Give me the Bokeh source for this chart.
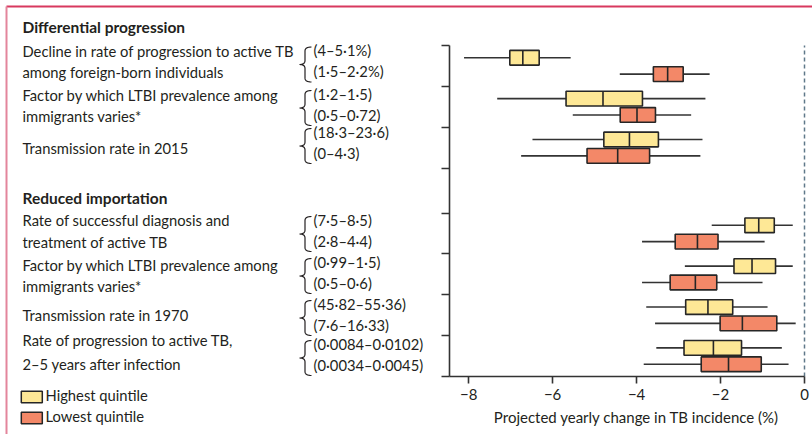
from bokeh.plotting import figure
from bokeh.models import Range1d, FixedTicker
from bokeh.core.properties import value
from bokeh.embed import file_html
from bokeh.resources import INLINE

# ---------------- data ----------------
sections = ["Differential progression", "Reduced importation"]
param_lines = [
    ["Decline in rate of progression to active TB", "among foreign-born individuals"],
    ["Factor by which LTBI prevalence among", "immigrants varies*"],
    ["Transmission rate in 2015"],
    ["Rate of successful diagnosis and", "treatment of active TB"],
    ["Factor by which LTBI prevalence among", "immigrants varies*"],
    ["Transmission rate in 1970"],
    ["Rate of progression to active TB,", "2–5 years after infection"],
]
param_section = [0, 0, 0, 1, 1, 1, 1]
high_ranges = ["(4–5·1%)", "(1·2–1·5)", "(18·3–23·6)", "(7·5–8·5)",
               "(0·99–1·5)", "(45·82–55·36)", "(0·0084–0·0102)"]
low_ranges = ["(1·5–2·2%)", "(0·5–0·72)", "(0–4·3)", "(2·8–4·4)",
              "(0·5–0·6)", "(7·6–16·33)", "(0·0034–0·0045)"]
series_names = ["Highest quintile", "Lowest quintile"]

# Highest quintile: whisker low, Q1, median, Q3, whisker high
high_wlo = [-8.11, -7.32, -6.48, -2.21, -2.85, -3.77, -3.53]
high_q1 = [-7.02, -5.68, -4.78, -1.42, -1.68, -2.83, -2.87]
high_med = [-6.71, -4.80, -4.17, -1.09, -1.25, -2.30, -2.17]
high_q3 = [-6.32, -3.86, -3.48, -0.72, -0.69, -1.71, -1.50]
high_whi = [-5.57, -2.36, -2.43, -0.28, -0.28, -0.88, -0.54]
# Lowest quintile
low_wlo = [-4.40, -5.52, -6.75, -3.87, -3.87, -3.56, -3.83]
low_q1 = [-3.60, -4.39, -5.18, -3.08, -3.20, -2.01, -2.46]
low_med = [-3.26, -3.99, -4.45, -2.55, -2.60, -1.48, -1.81]
low_q3 = [-2.89, -3.55, -3.69, -2.06, -2.09, -0.66, -1.03]
low_whi = [-2.26, -2.70, -2.48, -0.95, -1.00, -0.21, -0.38]

x_ticks = [-8, -6, -4, -2, 0]
x_tick_labels = ["−8", "−6", "−4", "−2", "0"]
x_title = "Projected yearly change in TB incidence (%)"
x_title_center = -4

# ---------------- style ----------------
FONT = "Lato"
FS = "14.75px"
TXT = "#231f20"
YELLOW = "#fee896"
RED = "#f38868"
EDGE = "#262626"
AXC = "#333333"
PINK_TOP = "#d8385f"
PINK_LEFT = "#e3859c"
TEXT_DY = -7  # renderer baseline correction (px)

W, H = 812, 434

# ---------------- row positions ----------------
n = len(param_lines)
SEC_GAP = 1.1
bottoms = [(n - 1 - i) + (SEC_GAP if param_section[i] == 0 else 0.0) for i in range(n)]
y_high = [b + 0.7 for b in bottoms]
y_low = [b + 0.3 for b in bottoms]
y_ticks = sorted(set([round(b, 3) for b in bottoms] + [round(b + 1, 3) for b in bottoms]))
Y_AXIS_TOP = max(y_ticks)

# pixel anchors of the plotting area on the canvas
PX_X0, PX_XZERO, PX_PER_X = 449.0, 804.0, 41.98   # y-axis line, x=0, px per unit
PX_YAXIS, PX_YTOP = 376.0, 45.0                   # x-axis line, top of y-axis
PX_PER_Y = (PX_YAXIS - PX_YTOP) / Y_AXIS_TOP

X_START = (0 - PX_XZERO) / PX_PER_X
X_END = (W - PX_XZERO) / PX_PER_X
X_AXIS_LEFT = (PX_X0 - PX_XZERO) / PX_PER_X
Y_START = -(H - PX_YAXIS) / PX_PER_Y
Y_END = PX_YAXIS / PX_PER_Y

p = figure(width=W, height=H, output_backend="svg", toolbar_location=None,
           x_range=Range1d(X_START, X_END), y_range=Range1d(Y_START, Y_END),
           min_border=0)
p.extra_x_ranges = {"px": Range1d(0, W)}
p.extra_y_ranges = {"px": Range1d(H, 0)}
p.outline_line_color = None
p.grid.visible = False
p.background_fill_color = "white"
p.border_fill_color = "white"

PXR = dict(x_range_name="px", y_range_name="px")

# decorative frame rules (top and left)
p.segment(x0=[6], y0=[6], x1=[W], y1=[6], line_color=PINK_TOP, line_width=2, **PXR)
p.segment(x0=[6], y0=[6], x1=[6], y1=[H], line_color=PINK_LEFT, line_width=2, **PXR)

# zero reference line (dashed)
p.segment(x0=[0], y0=[0], x1=[0], y1=[Y_AXIS_TOP], line_color="#5f7889",
          line_width=1.5, line_dash="4 3")

BOX_H = 0.36
for (yy, wlo, q1, med, q3, whi, col) in [
    (y_high, high_wlo, high_q1, high_med, high_q3, high_whi, YELLOW),
    (y_low, low_wlo, low_q1, low_med, low_q3, low_whi, RED),
]:
    p.segment(x0=wlo, y0=yy, x1=whi, y1=yy, line_color=AXC, line_width=1.6)
    p.hbar(y=yy, left=q1, right=q3, height=BOX_H, fill_color=col,
           line_color=EDGE, line_width=1.6)
    p.segment(x0=med, y0=[v - BOX_H / 2 for v in yy], x1=med,
              y1=[v + BOX_H / 2 for v in yy], line_color=EDGE, line_width=1.6)

xa = p.xaxis[0]
xa.fixed_location = 0
xa.bounds = (X_AXIS_LEFT, 0)
xa.ticker = FixedTicker(ticks=x_ticks)
xa.major_label_overrides = {float(t): lab for t, lab in zip(x_ticks, x_tick_labels)}
xa.major_tick_in = 0
xa.major_tick_out = 7
xa.minor_tick_line_color = None
xa.axis_line_width = 1.6
xa.axis_line_color = AXC
xa.major_tick_line_width = 1.6
xa.major_tick_line_color = AXC
xa.major_label_text_font = FONT
xa.major_label_text_font_size = "15px"
xa.major_label_text_color = TXT
xa.major_label_standoff = 5

ya = p.yaxis[0]
ya.fixed_location = X_AXIS_LEFT
ya.bounds = (0, Y_AXIS_TOP)
ya.ticker = FixedTicker(ticks=y_ticks)
ya.major_tick_in = 0
ya.major_tick_out = 8
ya.minor_tick_line_color = None
ya.axis_line_width = 1.6
ya.axis_line_color = AXC
ya.major_tick_line_width = 1.6
ya.major_tick_line_color = AXC
ya.major_label_text_font_size = "1px"
ya.major_label_text_alpha = 0
ya.major_label_standoff = 0

# x-axis title, centred on x = -4
p.text(x=[x_title_center], y=[423 + TEXT_DY], y_range_name="px",
       text=[x_title], text_font=value(FONT), text_font_size="15px", text_color=TXT,
       text_align="center", text_baseline="alphabetic")

# ---------------- left-hand labels (canvas pixel coordinates) ----------------
TEXT_X = 22
head_base = [33, 204]
line_base = [[57, 78], [101.5, 122.5], [154], [226.5, 248], [271, 292], [321.5],
             [346.5, 370]]
pair_base = [56.5, 100, 138, 226, 268, 310, 350]
PAIR_DY = 21
RANGE_X = 313

p.text(x=[TEXT_X] * len(sections), y=[b + TEXT_DY for b in head_base], text=sections,
       text_font=value(FONT), text_font_size="15.5px", text_font_style="bold",
       text_color=TXT, text_baseline="alphabetic", text_align="left", **PXR)

lx, ly, lt = [], [], []
for lines, bases in zip(param_lines, line_base):
    for t, b in zip(lines, bases):
        lx.append(TEXT_X)
        ly.append(b + TEXT_DY)
        lt.append(t)
p.text(x=lx, y=ly, text=lt, text_font=value(FONT), text_font_size=FS,
       text_color=TXT, text_baseline="alphabetic", text_align="left", **PXR)

rx, ry, rt = [], [], []
for hi, lo, b in zip(high_ranges, low_ranges, pair_base):
    rx += [RANGE_X, RANGE_X]
    ry += [b + TEXT_DY, b + PAIR_DY + TEXT_DY]
    rt += [hi, lo]
p.text(x=rx, y=ry, text=rt, text_font=value(FONT), text_font_size=FS,
       text_color=TXT, text_baseline="alphabetic", text_align="left", **PXR)


def qcurve(p0, c, p2, k=8):
    pts = []
    for j in range(k + 1):
        t = j / k
        x = (1 - t) ** 2 * p0[0] + 2 * (1 - t) * t * c[0] + t ** 2 * p2[0]
        y = (1 - t) ** 2 * p0[1] + 2 * (1 - t) * t * c[1] + t ** 2 * p2[1]
        pts.append((x, y))
    return pts


def brace(xr, xv, xm, top, bot, r=4.0):
    mid = (top + bot) / 2.0
    pts = []
    pts += qcurve((xr, top), (xv, top), (xv, top + r))
    pts += qcurve((xv, mid - r), (xv, mid), (xm, mid))
    pts += qcurve((xm, mid), (xv, mid), (xv, mid + r))
    pts += qcurve((xv, bot - r), (xv, bot), (xr, bot))
    return [q[0] for q in pts], [q[1] for q in pts]


bxs, bys = [], []
for b in pair_base:
    xs, ys = brace(311, 304.5, 299, b - 10, b + PAIR_DY + 4)
    bxs.append(xs)
    bys.append(ys)
p.multi_line(xs=bxs, ys=bys, line_color=TXT, line_width=1.2, **PXR)

# legend
leg_base = [401.5, 422.5]
p.rect(x=[31.3] * 2, y=[b - 5 for b in leg_base], width=21, height=11.5,
       fill_color=[YELLOW, RED], line_color=EDGE, line_width=1.5, **PXR)
p.text(x=[45] * 2, y=[b + TEXT_DY for b in leg_base], text=series_names,
       text_font=value(FONT), text_font_size=FS, text_color=TXT,
       text_baseline="alphabetic", text_align="left", **PXR)

open("out.html", "w").write(file_html(p, INLINE))
